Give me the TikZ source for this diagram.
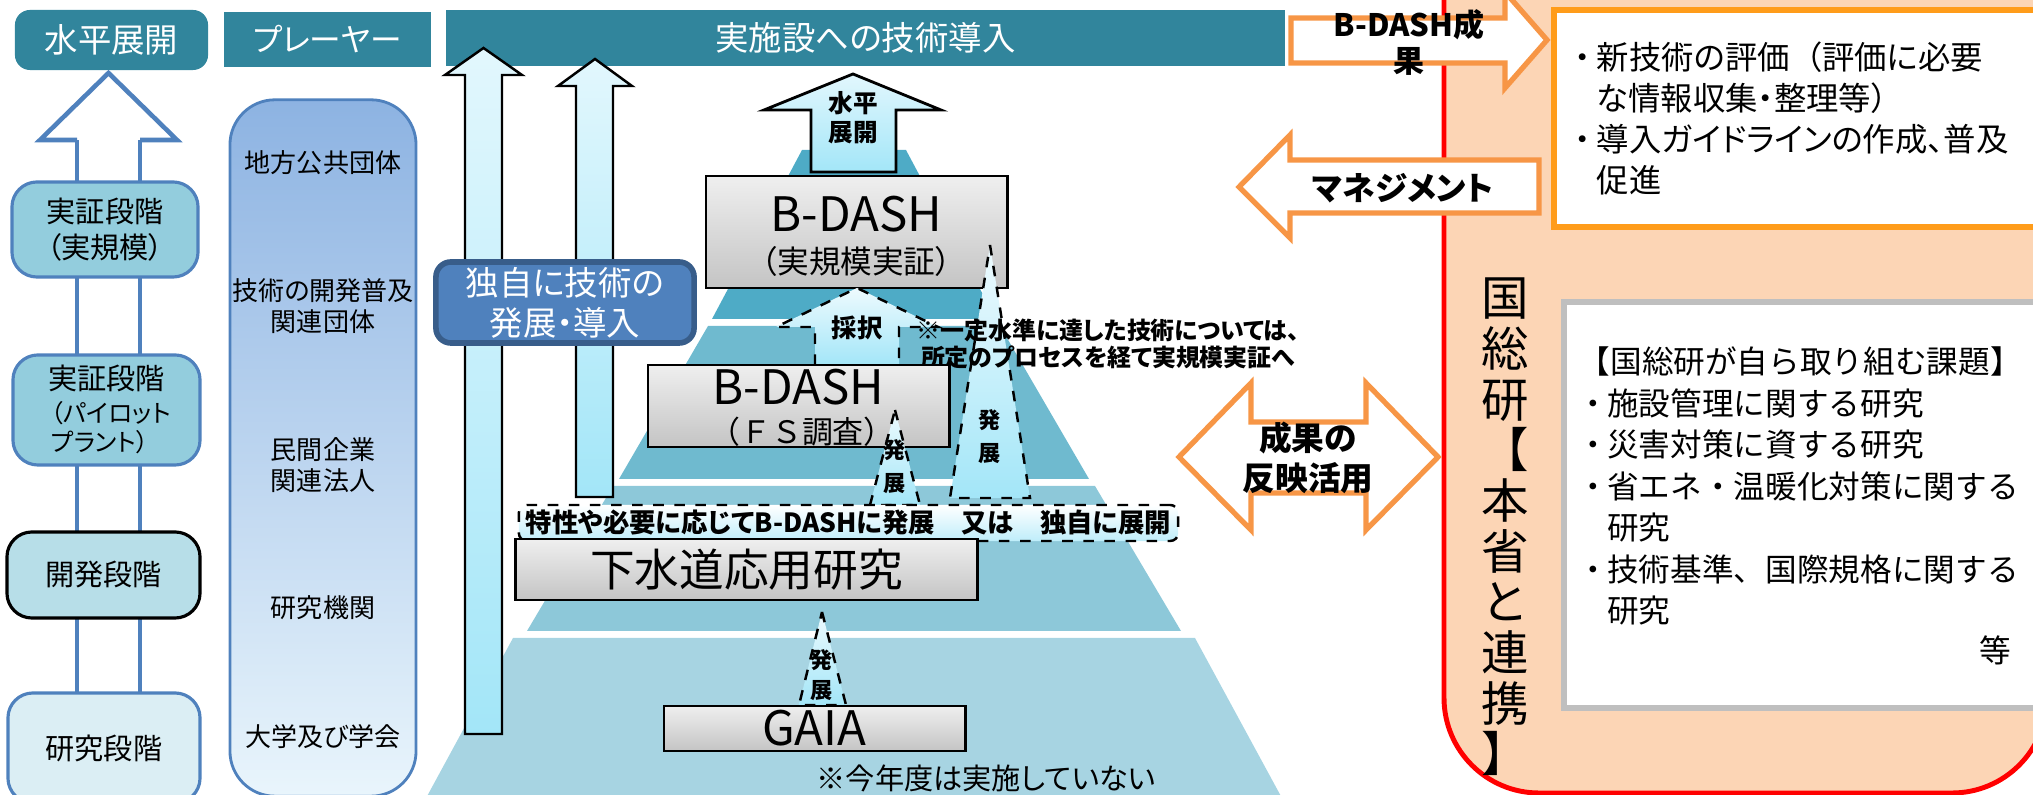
\documentclass[tikz,border=0pt]{standalone}
\usepackage{fontspec}
\setmainfont{Noto Sans CJK JP}[RawFeature=+palt]
\newfontfamily\fullfont{Noto Sans CJK JP}
\usepackage{tikz}
\definecolor{headTeal}{HTML}{31859C}
\definecolor{stageBlue}{HTML}{4F81BD}
\definecolor{stageFill}{HTML}{93CDDD}
\definecolor{devFill}{HTML}{B7DEE8}
\definecolor{resFill}{HTML}{DBEEF4}
\definecolor{playerTop}{HTML}{8DB3E2}
\definecolor{playerBot}{HTML}{E9F5FC}
\definecolor{ownFill}{HTML}{4F81BD}
\definecolor{ownLine}{HTML}{385D8A}
\definecolor{arrowCyan}{HTML}{A3E6F8}
\definecolor{arrowPale}{HTML}{E2F7FD}
\definecolor{layerA}{HTML}{4EABC6}
\definecolor{layerB}{HTML}{6FBACF}
\definecolor{layerC}{HTML}{8DC8D9}
\definecolor{layerD}{HTML}{A7D4E2}
\definecolor{boxTop}{HTML}{EFEFEF}
\definecolor{boxBot}{HTML}{C4C4C4}
\definecolor{orangeLine}{HTML}{F79646}
\definecolor{orangeBox}{HTML}{FF9C1A}
\definecolor{peach}{HTML}{FCD5B5}
\definecolor{redLine}{HTML}{FF0000}
\definecolor{greyLine}{HTML}{BFBFBF}
\newcommand{\jfs}[2]{\fontsize{#1}{#2}\selectfont}
\newcommand{\bul}{\makebox[0.9em]{・}}
\tikzset{
  headbox/.style={
    rectangle, fill=headTeal, text=white, inner sep=0pt,
  },
  stagebox/.style={
    rectangle, rounded corners=0.25cm, draw=stageBlue, line width=0.9pt,
    fill=stageFill, inner sep=0pt, align=center,
  },
  playerText/.style={
    inner sep=0pt, align=center, font=\jfs{7.4}{9},
  },
  tallArrow/.style={
    draw=black, line width=0.7pt, top color=arrowPale,
    bottom color=arrowCyan, line join=miter,
  },
  dashArrow/.style={
    draw=black, dashed, line width=0.7pt, top color=arrowPale!60,
    bottom color=arrowCyan, line join=miter,
  },
  greyBox/.style={
    rectangle, draw=black, line width=0.8pt, top color=boxTop,
    bottom color=boxBot, inner sep=0pt,
  },
  boldText/.style={
    inner sep=0pt, align=center,
  },
  orangeArrow/.style={
    draw=orangeLine, line width=1.5pt, fill=white, line join=miter,
  },
}
\begin{document}
\begin{tikzpicture}[x=0.01cm, y=-0.01cm]
\useasboundingbox (0,0) rectangle (2033,795);
\clip (0,0) rectangle (2033,795);

% Header bars
\node[headbox, rounded corners=0.15cm, minimum width=1.93cm, minimum height=0.60cm,
  font=\jfs{9.5}{11}] (hdSpread) at (111.5,40) {水平展開};
\node[headbox, minimum width=2.07cm, minimum height=0.55cm,
  font=\jfs{9}{11}] (hdPlayer) at (327.5,39.5) {プレーヤー};
\node[headbox, minimum width=8.39cm, minimum height=0.56cm,
  font=\jfs{9.5}{11}] (hdImpl) at (865.5,38) {実施設への技術導入};

% Hollow arrow behind the stages
\draw[draw=stageBlue, line width=1.3pt] (77,140) -- (77,700);
\draw[draw=stageBlue, line width=1.3pt] (140,140) -- (140,700);
\draw[draw=stageBlue, line width=1.3pt, fill=white, line join=miter]
  (77,140) -- (40,140) -- (108.5,73) -- (177,140) -- (140,140);

% Stages
\node[stagebox, minimum width=1.86cm, minimum height=0.95cm,
  font=\jfs{8.3}{10.2}] (stageReal) at (105,229.5) {実証段階\\（実規模）};
\node[stagebox, minimum width=1.87cm, minimum height=1.10cm] (stagePilot)
  at (106.5,410) {};
\node[boldText, font=\jfs{8.3}{10}] (stagePilotA) at (106.5,378) {実証段階};
\node[inner sep=0pt, align=left, font=\jfs{7}{8.3}] (stagePilotB)
  at (111,427.5) {（パイロット\\プラント）};
\node[stagebox, draw=black, fill=devFill, minimum width=1.93cm,
  minimum height=0.86cm, font=\jfs{8.3}{10}] (stageDev) at (103.5,575) {開発段階};
\node[stagebox, fill=resFill, minimum width=1.92cm, minimum height=1.10cm,
  font=\jfs{8.3}{10}] (stageRes) at (104,748) {研究段階};

% Players
\node[draw=stageBlue, line width=0.8pt, rounded corners=0.45cm,
  top color=playerTop, bottom color=playerBot, minimum width=1.86cm,
  minimum height=6.96cm, inner sep=0pt] (players) at (323,448) {};
\node[playerText] (plLocal) at (323,163) {地方公共団体};
\node[playerText] (plAssoc) at (323,306) {技術の開発普及\\関連団体};
\node[playerText] (plCorp) at (323,465) {民間企業\\関連法人};
\node[playerText] (plInst) at (323,608) {研究機関};
\node[playerText] (plUniv) at (323,737) {大学及び学会};

% Pyramid layers
\foreach \yt/\wt/\yb/\wb/\col in {150/52/319/142/layerA, 326/146/479/235/layerB,
  486/241/631/327/layerC, 638/341/800/429/layerD}
{
  \fill[\col] ({854-\wt},\yt) -- ({854+\wt},\yt) -- ({854+\wb},\yb)
    -- ({854-\wb},\yb) -- cycle;
}

% Tall arrows and own route
\draw[tallArrow] (465,734) -- (465,75) -- (445,75) -- (483.5,48) -- (522,75)
  -- (502,75) -- (502,734) -- cycle;
\draw[tallArrow] (576,497) -- (576,86) -- (558,86) -- (595,59) -- (632,86)
  -- (613,86) -- (613,497) -- cycle;
\node[draw=ownLine, line width=1.6pt, fill=ownFill, rounded corners=0.15cm,
  minimum width=2.58cm, minimum height=0.81cm, text=white, align=center,
  inner sep=0pt, font=\jfs{9.5}{11.4}] (ownDev) at (565,302.5)
  {独自に技術の\\発展・導入};

% Top of the pyramid
\draw[tallArrow, line width=0.8pt] (811,172) -- (811,110) -- (764,110)
  -- (853,74) -- (941,110) -- (896,110) -- (896,172) -- cycle;
\node[boldText, font=\bfseries\jfs{7}{8.3}] (spreadLbl) at (853,117.5) {水平\\展開};
\node[greyBox, minimum width=3.01cm, minimum height=1.12cm] (bdashReal)
  at (856.5,232) {};
\node[boldText, font=\jfs{13.5}{16}] (bdashRealT) at (856.5,214) {B-DASH};
\node[boldText, font=\jfs{9}{11}] (bdashRealS) at (856.5,261) {（実規模実証）};

% Development wedges
\draw[dashArrow] (990,245) -- (1030,498) -- (950,498) -- cycle;
\node[boldText, font=\bfseries\jfs{6.3}{9.4}] (devRight) at (990,436.5) {発\\展};

% Adoption step
\draw[dashArrow] (815,365) -- (815,327) -- (776,327) -- (857,288) -- (938,327)
  -- (899,327) -- (899,365);
\node[boldText, font=\bfseries\jfs{7.2}{8}] (adoptLbl) at (857,328) {採択};
\node[boldText, font=\bfseries\jfs{6.8}{7.7}] (noteLbl) at (1108,343.5)
  {※一定水準に達した技術については、\\所定のプロセスを経て実規模実証へ};

\node[greyBox, minimum width=3.01cm, minimum height=0.82cm] (bdashFS)
  at (798.5,406) {};
\node[boldText, font=\jfs{13.5}{16}] (bdashFST) at (798.5,387.5) {B-DASH};
\node[boldText, font=\fullfont\jfs{8.8}{11}] (bdashFSS) at (802,432) {（ＦＳ調査）};

\draw[dashArrow] (895,410) -- (920,505) -- (870,505) -- cycle;
\node[boldText, font=\bfseries\jfs{6.3}{9.4}] (devLeft) at (895,466.5) {発\\展};

\node[draw, dashed, rounded corners=0.08cm, line width=0.7pt, top color=white,
  bottom color=arrowCyan!70, minimum width=6.59cm, minimum height=0.36cm,
  inner sep=0pt, font=\bfseries\jfs{7.5}{9}] (bandNote) at (848.5,523)
  {特性や必要に応じてB-DASHに発展　又は　独自に展開};

\node[greyBox, minimum width=4.61cm, minimum height=0.61cm,
  font=\jfs{12.7}{15}] (sewerApp) at (746.5,569.5) {下水道応用研究};

\draw[dashArrow] (822,612) -- (846,705) -- (799,705) -- cycle;
\node[boldText, font=\bfseries\jfs{6.3}{8.5}] (devLow) at (822,675) {発\\展};

\node[greyBox, minimum width=3.01cm, minimum height=0.45cm,
  font=\jfs{13.5}{16}] (gaia) at (814.5,728.5) {GAIA};
\node[boldText, font=\jfs{8.3}{10}] (notYet) at (986,778) {※今年度は実施していない};

% NILIM panel
\draw[draw=redLine, line width=1.4pt, fill=peach, rounded corners=0.95cm]
  (1444,-120) rectangle (2047,793);
\node[rectangle, draw=orangeBox, line width=1.5pt, fill=white,
  minimum width=5.06cm, minimum height=2.17cm] (resultBox) at (1807,118.5) {};
\node[inner sep=0pt, anchor=west, align=left, font=\jfs{9.2}{11.7}] (resultText)
  at (1567,118.5)
  {\bul 新技術の評価\hspace{0.5em}（評価に必要\\\hspace*{0.9em}な情報収集・整理等）\\
   \bul 導入ガイドラインの作成、普及\\\hspace*{0.9em}促進};
\node[rectangle, draw=greyLine, line width=1.5pt, fill=white,
  minimum width=4.96cm, minimum height=4.06cm] (taskBox) at (1812,505) {};
\node[inner sep=0pt, anchor=west, align=left, font=\fullfont\jfs{9}{11.8}]
  (taskText) at (1578,486)
  {【国総研が自ら取り組む課題】\\\bul 施設管理に関する研究\\
   \bul 災害対策に資する研究\\\bul 省エネ・温暖化対策に関する\\
   \hspace*{0.9em}研究\\\bul 技術基準、国際規格に関する\\\hspace*{0.9em}研究};
\node[boldText, font=\fullfont\jfs{9}{10}] (etcLbl) at (1995,650) {等};
\node[boldText, font=\fullfont\jfs{13.5}{14.4}] (nilimV) at (1505,527)
  {国\\総\\研\\【\\本\\省\\と\\連\\携\\】};

% Orange block arrows
\draw[orangeArrow] (1291,18) -- (1505,18) -- (1505,-8) -- (1547,40) -- (1505,88)
  -- (1505,63) -- (1291,63) -- cycle;
\node[boldText, font=\bfseries\jfs{8.8}{10}] (bdashResult) at (1409,42.5)
  {B-DASH成\\果};
\draw[orangeArrow] (1539,160) -- (1290,160) -- (1290,135) -- (1239,187)
  -- (1290,238) -- (1290,213) -- (1539,213) -- cycle;
\node[boldText, font=\bfseries\jfs{9.3}{11}] (mgmtLbl) at (1403,188) {マネジメント};
\draw[orangeArrow] (1179,457) -- (1251,383) -- (1251,422) -- (1366,422)
  -- (1366,383) -- (1438,457) -- (1366,530) -- (1366,493) -- (1251,493)
  -- (1251,530) -- cycle;
\node[boldText, font=\bfseries\jfs{9.3}{11.4}] (reflectLbl) at (1308,458)
  {成果の\\反映活用};

\end{tikzpicture}
\end{document}
